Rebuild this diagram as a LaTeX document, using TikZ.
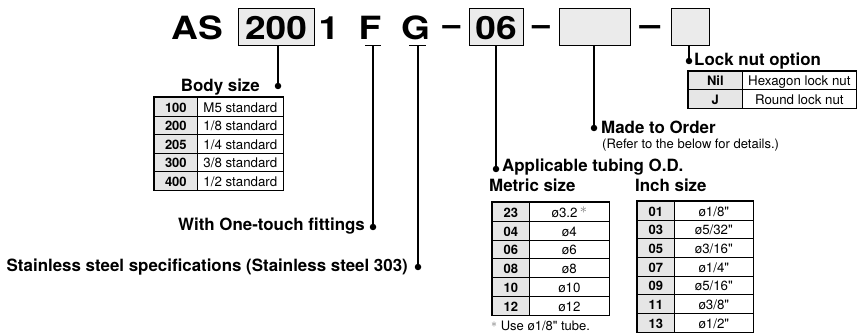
\documentclass[tikz,border=0pt]{standalone}
\usepackage{fontspec}
\setmainfont{TeX Gyre Heros}[Ligatures=TeXOff]
\newfontfamily\titlefont[FakeStretch=1.16]{TeX Gyre Heros}
\definecolor{keygray}{HTML}{E6E6E6}
\definecolor{boxgray}{HTML}{EBEBEB}
\newcommand{\grayast}{\textcolor{black!55}{\raisebox{3.5pt}{$\ast$}}}
\begin{document}
\begin{tikzpicture}[x=1pt,y=-1pt,
  title/.style={font=\titlefont\bfseries\fontsize{32}{32}\selectfont, inner sep=0, anchor=base},
  dashtxt/.style={font=\bfseries\fontsize{32}{32}\selectfont, inner sep=0, anchor=base},
  codebox/.style={draw, fill=boxgray, line width=1.2pt, minimum height=37, inner sep=0, anchor=north west},
  lab/.style={font=\bfseries\fontsize{16.9}{18}\selectfont, inner sep=0},
  note/.style={font=\fontsize{13}{14}\selectfont, inner sep=0},
  kcell/.style={draw, fill=keygray, line width=0.7pt, inner sep=0, anchor=north west, text height=11pt, text depth=0pt, font=\bfseries\fontsize{13}{14}\selectfont},
  vcell/.style={draw, fill=white, line width=0.7pt, inner sep=0, anchor=north west, text height=11pt, text depth=0pt, font=\fontsize{13.3}{14}\selectfont},
  frame/.style={line width=1.1pt},
  dot/.style={circle, fill, inner sep=0, minimum size=6.5},
  conn/.style={line width=1.1pt}]
\useasboundingbox (0,0) rectangle (857,336);

% ---- code line
\node[title] (tAS) at (197,40) {AS};
\node[codebox, minimum width=76] (b200) at (238,8) {};
\node[title] (t200) at (276,40) {200};
\node[title] (t1) at (329,40) {1};
\node[title] (tF) at (370,40) {F};
\node[title] (tG) at (415.5,40) {G};
\node[dashtxt] (dash1) at (451.5,40) {\raisebox{4pt}{–}};
\node[codebox, minimum width=54] (b06) at (469,8) {};
\node[title] (t06) at (496,40) {06};
\node[dashtxt] (dash2) at (541,40) {\raisebox{4pt}{–}};
\node[codebox, minimum width=71] (bmto) at (559,8) {};
\node[title] (dash3) at (650,40) {\raisebox{4pt}{–}};
\node[codebox, minimum width=38] (block) at (671,8) {};

% ---- dots
\node[dot] (d200) at (278,86) {};
\node[dot] (dF) at (373,227) {};
\node[dot] (dG) at (418,267) {};
\node[dot] (d06) at (496,169) {};
\node[dot] (dmto) at (594,128) {};
\node[dot] (dlock) at (689,61) {};

% ---- connectors
\draw[conn] (d200 |- b200.south) -- (d200.center);
\coordinate (fl) at (365,45.5); \coordinate (fr) at (381,45.5);
\coordinate (gl) at (409,45.5); \coordinate (gr) at (426,45.5);
\draw[conn] (fl) -- (fr);
\draw[conn] (gl) -- (gr);
\draw[conn] (dF |- fl) -- (dF.center);
\draw[conn] (dG |- gl) -- (dG.center);
\draw[conn] (d06 |- b06.south) -- (d06.center);
\draw[conn] (dmto |- bmto.south) -- (dmto.center);
\draw[conn] (dlock |- block.south) -- (dlock.center);

% ---- labels
\node[lab, anchor=base east] (lbody) at (260,92) {Body size};
\node[lab, anchor=base east] (lfit) at (365,231) {With One-touch fittings};
\node[lab, anchor=base east] (lsus) at (408,272) {Stainless steel specifications (Stainless steel 303)};
\node[lab, anchor=base west] (llock) at (694,66) {Lock nut option};
\node[lab, anchor=base west] (lmto) at (601,134) {Made to Order};
\node[note, anchor=base west] (lmto2) at (602,149) {(Refer to the below for details.)};
\node[lab, anchor=base west] (ltube) at (502,172) {Applicable tubing O.D.};
\node[lab, anchor=base west] (lmet) at (489,192) {Metric size};
\node[lab, anchor=base west] (linch) at (635,192) {Inch size};
\node[note, anchor=base west] (lfoot) at (491,331) {\grayast\ Use ø1/8" tube.};

% ---- body size table
\foreach \k/\v [count=\i from 0] in {100/M5 standard,200/{1/8 standard},205/{1/4 standard},300/{3/8 standard},400/{1/2 standard}}{
  \node[kcell, minimum width=43, minimum height=18.6] (bk\i) at (154,97+\i*18.6) {\k};
  \node[vcell, minimum width=86, minimum height=18.6] (bv\i) at (197,97+\i*18.6) {\v};
}
\draw[frame] (bk0.north west) rectangle (bv4.south east);

% ---- lock nut table
\foreach \k/\v [count=\i from 0] in {Nil/Hexagon lock nut,J/Round lock nut}{
  \node[kcell, minimum width=54, minimum height=18.3] (lk\i) at (688,71+\i*18.3) {\k};
  \node[vcell, minimum width=114, minimum height=18.3] (lv\i) at (742,71+\i*18.3) {\v};
}
\draw[frame] (lk0.north west) rectangle (lv1.south east);

% ---- metric table
\foreach \k/\v [count=\i from 0] in {23/{ø3.2\,\grayast},04/ø4,06/ø6,08/ø8,10/ø10,12/ø12}{
  \node[kcell, minimum width=37, minimum height=18.83] (mk\i) at (492,202+\i*18.83) {\k};
  \node[vcell, minimum width=80, minimum height=18.83] (mv\i) at (529,202+\i*18.83) {\v};
}
\draw[frame] (mk0.north west) rectangle (mv5.south east);

% ---- inch table
\foreach \k/\v [count=\i from 0] in {01/{ø1/8"},03/{ø5/32"},05/{ø3/16"},07/{ø1/4"},09/{ø5/16"},11/{ø3/8"},13/{ø1/2"}}{
  \node[kcell, minimum width=37, minimum height=18.7] (ik\i) at (637,201+\i*18.7) {\k};
  \node[vcell, minimum width=79, minimum height=18.7] (iv\i) at (674,201+\i*18.7) {\v};
}
\draw[frame] (ik0.north west) rectangle (iv6.south east);
\end{tikzpicture}
\end{document}
